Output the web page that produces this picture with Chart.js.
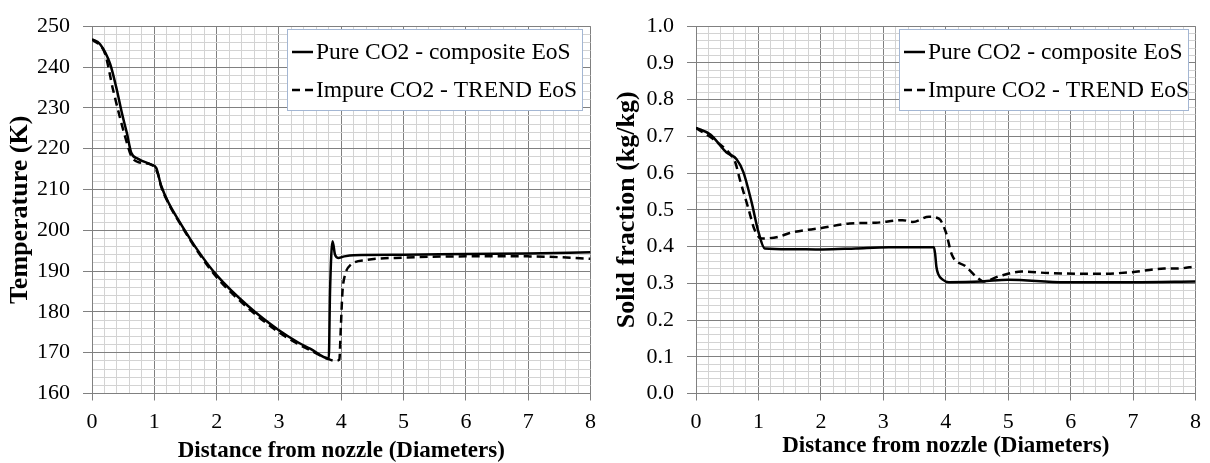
<!DOCTYPE html>
<html>
<head>
    <title>CO2 jet: temperature and solid fraction</title>
    <script src="https://cdn.jsdelivr.net/npm/chart.js"></script>
    <style>
        body { margin: 0; background: #fff; }
        .panel { position: absolute; top: 0; width: 605px; height: 463px; }
    </style>
</head>
<body>
    <div class="panel" style="left: 0;"><canvas id="tempChart" width="605" height="463"></canvas></div>
    <div class="panel" style="left: 605px;"><canvas id="solidChart" width="605" height="463"></canvas></div>

    <script>
        // Temperature (K) vs distance from nozzle (diameters)
        const tempPureX = [0, 0.13, 0.29, 0.40, 0.48, 0.56, 0.63, 0.74, 0.95, 1.03, 1.11, 1.24, 1.40, 1.7, 2.0, 2.5, 3.0, 3.31, 3.5, 3.8, 3.82, 3.86, 3.9, 3.95, 4.05, 4.2, 5.0, 6.0, 7.0, 8.0];
        const tempPureY = [246.8, 245.6, 240.8, 234.3, 228.7, 223.8, 219.0, 217.5, 216.1, 215.3, 210.9, 206.4, 202.2, 195.0, 189.0, 181.5, 175.5, 172.5, 171.0, 168.6, 185.0, 197.3, 194.0, 193.2, 193.6, 193.9, 194.0, 194.2, 194.3, 194.6];
        const tempImpureX = [0, 0.21, 0.34, 0.56, 0.63, 0.74, 0.95, 1.06, 1.11, 1.24, 1.40, 1.7, 2.0, 2.5, 3.0, 3.3, 3.5, 3.8, 3.9, 3.97, 3.99, 4.02, 4.06, 4.15, 4.4, 5.0, 6.0, 7.0, 7.5, 8.0];
        const tempImpureY = [246.8, 243.2, 234.3, 221.4, 218.2, 216.7, 216.1, 213.7, 210.7, 206.2, 202.0, 194.7, 188.5, 181.0, 175.0, 172.2, 170.6, 168.4, 168.0, 168.3, 175.0, 185.0, 189.0, 191.5, 192.7, 193.3, 193.6, 193.6, 193.4, 193.0];

        // Solid fraction (kg/kg) vs distance from nozzle (diameters)
        const solidPureX = [0, 0.23, 0.49, 0.65, 0.76, 0.89, 1.0, 1.10, 1.5, 2.03, 2.56, 3.09, 3.78, 3.81, 3.83, 3.85, 3.88, 3.95, 4.05, 4.58, 5.0, 5.9, 7.0, 8.0];
        const solidPureY = [0.723, 0.705, 0.656, 0.638, 0.602, 0.521, 0.44, 0.395, 0.393, 0.392, 0.395, 0.398, 0.398, 0.398, 0.38, 0.345, 0.325, 0.31, 0.303, 0.305, 0.31, 0.303, 0.303, 0.305];
        const solidImpureX = [0, 0.28, 0.55, 0.63, 0.70, 0.84, 0.94, 1.05, 1.33, 1.5, 2.03, 2.46, 2.88, 3.31, 3.47, 3.73, 3.89, 4.0, 4.1, 4.32, 4.5, 4.61, 4.85, 5.22, 5.64, 6.44, 6.97, 7.5, 7.7, 8.0];
        const solidImpureY = [0.723, 0.692, 0.651, 0.629, 0.584, 0.503, 0.445, 0.422, 0.427, 0.437, 0.451, 0.463, 0.465, 0.472, 0.467, 0.481, 0.476, 0.44, 0.377, 0.346, 0.316, 0.305, 0.319, 0.332, 0.328, 0.326, 0.33, 0.34, 0.34, 0.346];

        const seriesLabels = ['Pure CO2 - composite EoS', 'Impure CO2 - TREND EoS'];
        const xTitle = 'Distance from nozzle (Diameters)';

        const serif = "'Liberation Serif', 'Times New Roman', serif";
        const majorGrid = '#808080';
        const minorGrid = '#d3d3d3';

        function points(xs, ys) {
            return xs.map((x, i) => ({ x: x, y: ys[i] }));
        }

        // legend drawn as a framed box inside the plot
        const boxLegend = {
            id: 'boxLegend',
            afterDatasetsDraw(chart, args, opts) {
                const ctx = chart.ctx;
                ctx.save();
                ctx.fillStyle = '#fff';
                ctx.fillRect(opts.x, opts.y, opts.w, opts.h);
                ctx.strokeStyle = '#a3b6d3';
                ctx.lineWidth = 1;
                ctx.strokeRect(opts.x + 0.5, opts.y + 0.5, opts.w, opts.h);
                ctx.font = '23.5px ' + serif;
                ctx.textBaseline = 'middle';
                ctx.fillStyle = '#000';
                chart.data.datasets.forEach((ds, i) => {
                    const y = opts.y + 23 + i * 38;
                    ctx.beginPath();
                    ctx.setLineDash(ds.borderDash || []);
                    ctx.strokeStyle = '#000';
                    ctx.lineWidth = 2.5;
                    ctx.moveTo(opts.x + 5, y);
                    ctx.lineTo(opts.x + 26, y);
                    ctx.stroke();
                    ctx.setLineDash([]);
                    ctx.fillText(ds.label, opts.x + 29, y + 1);
                });
                ctx.restore();
            }
        };

        function makeChart(id, cfg) {
            const isMajorY = cfg.isMajorY;
            const isMajorX = v => Math.abs(v - Math.round(v)) < 1e-6;
            new Chart(document.getElementById(id), {
                type: 'line',
                data: {
                    datasets: [
                        {
                            label: seriesLabels[0],
                            data: points(cfg.pureX, cfg.pureY),
                            borderColor: '#000',
                            borderWidth: 2.5,
                            pointRadius: 0,
                            cubicInterpolationMode: 'monotone'
                        },
                        {
                            label: seriesLabels[1],
                            data: points(cfg.impureX, cfg.impureY),
                            borderColor: '#000',
                            borderWidth: 2.5,
                            borderDash: [8, 5],
                            pointRadius: 0,
                            cubicInterpolationMode: 'monotone'
                        }
                    ]
                },
                options: {
                    responsive: false,
                    animation: false,
                    layout: { padding: { top: 22, right: cfg.padRight, left: 0, bottom: 0 } },
                    plugins: {
                        legend: { display: false },
                        tooltip: { enabled: false },
                        boxLegend: cfg.legendBox
                    },
                    scales: {
                        x: {
                            type: 'linear',
                            min: 0,
                            max: 8,
                            afterFit: s => { s.height = cfg.xAxisHeight; },
                            ticks: {
                                stepSize: 0.2,
                                autoSkip: false,
                                maxRotation: 0,
                                padding: 9,
                                color: '#000',
                                font: { family: serif, size: 22 },
                                callback: v => isMajorX(v) ? String(Math.round(v)) : ''
                            },
                            grid: {
                                color: c => (c.tick && isMajorX(c.tick.value)) ? majorGrid : minorGrid,
                                tickColor: c => (c.tick && isMajorX(c.tick.value)) ? majorGrid : 'rgba(0,0,0,0)',
                                tickLength: 7
                            },
                            border: { color: majorGrid },
                            title: {
                                display: true,
                                text: xTitle,
                                color: '#000',
                                font: { family: serif, size: 23, weight: 'bold', lineHeight: 1 },
                                padding: { top: 0, bottom: cfg.xTitlePad }
                            }
                        },
                        y: {
                            min: cfg.yMin,
                            max: cfg.yMax,
                            afterFit: s => { s.width = cfg.yAxisWidth; },
                            ticks: {
                                stepSize: cfg.yStep,
                                autoSkip: false,
                                padding: 13,
                                color: '#000',
                                font: { family: serif, size: 22 },
                                callback: v => isMajorY(v) ? cfg.yFormat(v) : ''
                            },
                            grid: {
                                color: c => (c.tick && isMajorY(c.tick.value)) ? majorGrid : minorGrid,
                                tickColor: c => (c.tick && isMajorY(c.tick.value)) ? majorGrid : 'rgba(0,0,0,0)',
                                tickLength: 9
                            },
                            border: { color: majorGrid },
                            title: {
                                display: true,
                                text: cfg.yTitle,
                                color: '#000',
                                font: { family: serif, size: 26, weight: 'bold', lineHeight: 1 },
                                padding: { top: cfg.yTitlePad, bottom: 0 }
                            }
                        }
                    }
                },
                plugins: [boxLegend]
            });
        }

        makeChart('tempChart', {
            pureX: tempPureX, pureY: tempPureY,
            impureX: tempImpureX, impureY: tempImpureY,
            yMin: 160, yMax: 250, yStep: 2,
            isMajorY: v => Math.abs(v / 10 - Math.round(v / 10)) < 1e-6,
            yFormat: v => String(v),
            yTitle: 'Temperature (K)',
            yTitlePad: 7,
            yAxisWidth: 92,
            xAxisHeight: 69.5,
            xTitlePad: 0,
            padRight: 9,
            legendBox: { x: 287, y: 29, w: 295, h: 81 }
        });

        makeChart('solidChart', {
            pureX: solidPureX, pureY: solidPureY,
            impureX: solidImpureX, impureY: solidImpureY,
            yMin: 0, yMax: 1, yStep: 0.02,
            isMajorY: v => Math.abs(v * 10 - Math.round(v * 10)) < 1e-6,
            yFormat: v => v.toFixed(1),
            yTitle: 'Solid fraction (kg/kg)',
            yTitlePad: 9,
            yAxisWidth: 91,
            xAxisHeight: 69.5,
            xTitlePad: 5,
            padRight: 12,
            legendBox: { x: 294, y: 29, w: 289, h: 81 }
        });
    </script>
</body>
</html>
